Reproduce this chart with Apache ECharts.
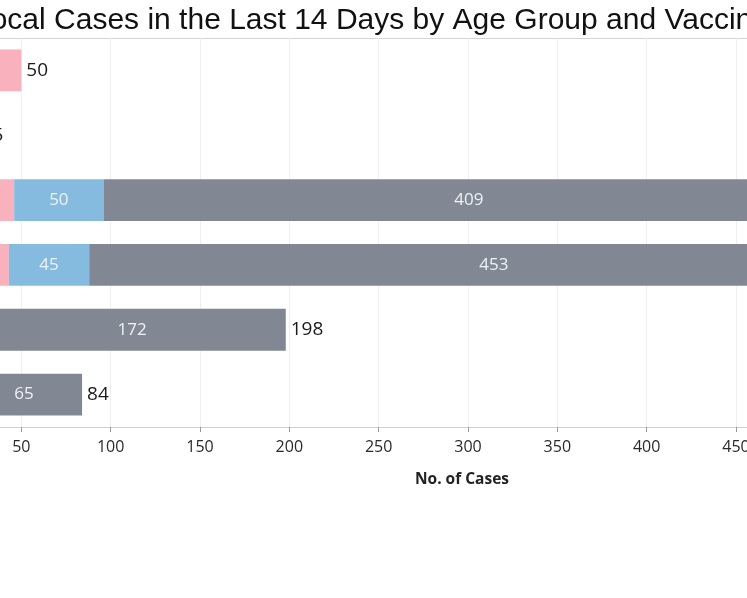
<!DOCTYPE html>
<html>
<head>
<meta charset="utf-8">
<script src="https://cdn.jsdelivr.net/npm/echarts@6/dist/echarts.min.js"></script>
<style>
  html, body { margin: 0; padding: 0; background: #fff; overflow: hidden; width: 747px; height: 598px; }
  /* the reference is a crop of a wider chart, so the chart is larger than the page and shifted left */
  #chart { position: absolute; left: -150px; top: 0; width: 1300px; height: 598px; }
</style>
</head>
<body>
<div id="chart"></div>
<script>
// age groups, top to bottom
var ageGroups = ['0-11 years', '12-19 years', '20-39 years', '40-59 years', '60-69 years', '70 years & above'];
// segments per age group
var pinkCases = [50, 25, 46, 43, 10, 8];
var blueCases = [0, 0, 50, 45, 16, 11];
var greyCases = [0, 0, 409, 453, 172, 65];
var totals = [50, 25, 505, 541, 198, 84];
var tickStep = 50;

var dom = document.getElementById('chart');
var myChart = echarts.init(dom);

var insideLabel = {
    show: true,
    position: 'inside',
    color: '#eef2f6',
    fontSize: 17,
    fontFamily: 'Open Sans',
    formatter: function (p) { return p.value > 0 ? p.value : ''; }
};

option = {
    animation: false,
    title: {
        text: 'Local Cases in the Last 14 Days by Age Group and Vaccination Status',
        left: 119,
        top: 1,
        textStyle: {
            fontFamily: 'Liberation Sans',
            fontWeight: 'normal',
            fontSize: 30,
            color: '#111'
        }
    },
    graphic: [{
        type: 'line',
        shape: { x1: 0, y1: 38.5, x2: 1300, y2: 38.5 },
        style: { stroke: '#d4d4d4', lineWidth: 1 }
    }],
    grid: {
        left: 82,
        right: 146,
        top: 38,
        bottom: 171
    },
    xAxis: {
        type: 'value',
        min: 0,
        max: 600,
        interval: tickStep,
        name: 'No. of Cases',
        nameLocation: 'middle',
        nameGap: 45,
        nameTextStyle: { fontFamily: 'Open Sans', fontWeight: 'bold', fontSize: 15.5, color: '#222', padding: [0, 12, 0, 0] },
        axisLine: { show: true, lineStyle: { color: '#cfcfcf' } },
        axisTick: { show: true, length: 5, lineStyle: { color: '#999' } },
        axisLabel: { fontFamily: 'Open Sans', fontSize: 16, color: '#2a2a2a', margin: 12 },
        splitLine: { show: true, lineStyle: { color: '#efefef' } }
    },
    yAxis: {
        type: 'category',
        data: ageGroups,
        inverse: true,
        axisLine: { show: false },
        axisTick: { show: false },
        axisLabel: { show: false }
    },
    series: [
        {
            name: 'Pink',
            type: 'bar',
            stack: 'cases',
            barCategoryGap: '35.5%',
            itemStyle: { color: '#f9b2bd' },
            label: insideLabel,
            data: pinkCases
        },
        {
            name: 'Blue',
            type: 'bar',
            stack: 'cases',
            itemStyle: { color: '#85bbdf' },
            label: insideLabel,
            data: blueCases
        },
        {
            name: 'Grey',
            type: 'bar',
            stack: 'cases',
            itemStyle: { color: '#818893' },
            label: insideLabel,
            data: greyCases
        },
        {
            // zero-width bar at the end of each stack, only carries the total label
            name: 'Total',
            type: 'bar',
            stack: 'cases',
            itemStyle: { color: 'transparent' },
            label: {
                show: true,
                position: 'right',
                distance: 5,
                color: '#1a1a1a',
                fontSize: 19,
                fontFamily: 'Open Sans',
                formatter: function (p) { return totals[p.dataIndex]; }
            },
            data: totals.map(function () { return 0; })
        }
    ]
};

if (option && typeof option === "object") {
    myChart.setOption(option, true);
}
</script>
</body>
</html>
